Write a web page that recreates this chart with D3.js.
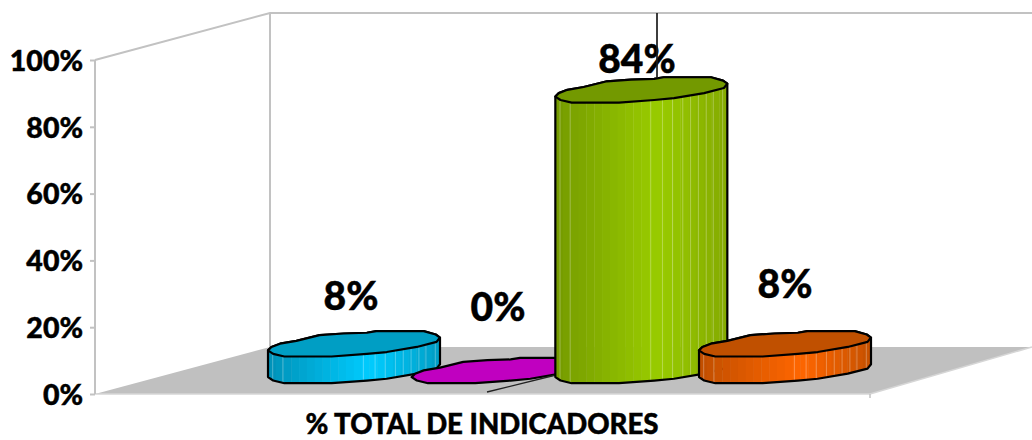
<!DOCTYPE html>
<html><head><meta charset="utf-8">
<script src="https://cdn.jsdelivr.net/npm/d3@7"></script>
<style>html,body{margin:0;background:#fff}svg{display:block}text{font-family:Lato,Carlito,sans-serif;font-weight:900;fill:#000;stroke:#000;stroke-width:.45px}</style>
</head><body><svg id="c" width="1032" height="440"></svg>
<script>
const categories = ["A","B","C","D"];
const values = [8,0,84,8];
const labels = ["8%","0%","84%","8%"];
const tickValues = [0,20,40,60,80,100];
const axisTitle = "% TOTAL DE INDICADORES";
const sideColors = [["#0093ba","#00ccff","#009fc7"],["#c000c0","#c000c0","#c000c0"],["#769c00","#99cc00","#85ab00"],["#c24f00","#ff6600","#c85200"]];
const topColors = ["#009ec4","#c000c0","#739900","#c05000"];
const labelPos = [[351,310],[498,321],[637,73],[785,298]];
// outline of the skewed, faceted disc, as fractions of half-width / half-height
const discOutline = [[-1,.52],[-.96,.25],[-.86,-.01],[-.67,-.23],[-.4,-.68],[-.12,-.81],[.15,-.87],[.26,-1],[.81,-1],[.95,-.73],[1,-.49],[.96,-.15],[.73,.25],[.38,.65],[.15,.79],[-.26,1],[-.81,1],[-.94,.79]];
const rightIdx = 10;

const svg = d3.select("#c");
const y = d3.scaleLinear().domain([0,100]).range([394,60]);
const x = d3.scalePoint().domain(categories).range([354,785]);
const depthX = 175, depthY = -47, wallGrey = "#c2c2c2";
const axisX = 95, right = 870;
const discW = 86, discH = 12.7, baseY = 370.5;
const floorY = y(0), backY = y(0)+depthY, topBackY = y(100)+depthY;

// floor
svg.append("path").attr("fill","#c0c0c0")
  .attr("d",d3.line()([[axisX,floorY],[axisX+depthX,backY],[1032,backY],[right,floorY]])+"Z");
// walls
svg.append("path").attr("fill","none").attr("stroke",wallGrey).attr("stroke-width",2)
  .attr("d",d3.line()([[axisX,y(100)],[axisX+depthX,topBackY],[1032,topBackY]]));
svg.append("line").attr("x1",axisX+depthX).attr("x2",axisX+depthX).attr("y1",topBackY).attr("y2",backY).attr("stroke",wallGrey).attr("stroke-width",2);
svg.append("path").attr("fill","none").attr("stroke","#d6d6d6").attr("stroke-width",1.5)
  .attr("d",d3.line()([[axisX,floorY],[right,floorY],[1032,backY]]));
svg.append("line").attr("x1",right).attr("x2",right).attr("y1",floorY).attr("y2",floorY+4).attr("stroke",wallGrey).attr("stroke-width",1.5);

// y axis
const ax = svg.append("g").attr("transform",`translate(${axisX},0)`)
  .call(d3.axisLeft(y).tickValues(tickValues).tickFormat(d=>d+"%").tickSize(5).tickPadding(7));
ax.selectAll(".domain,line").attr("stroke",wallGrey).attr("stroke-width",2);
ax.select(".domain").attr("d",`M0,${y(100)}V${y(0)}`);
ax.selectAll("text").attr("font-size",28.5).attr("dy","0.36em").style("font-family","Lato,Carlito,sans-serif").attr("fill","#000");

svg.append("text").attr("x",482).attr("y",434).attr("text-anchor","middle").attr("font-size",27.6).text(axisTitle);

// leader behind the columns
svg.append("line").attr("x1",657).attr("x2",657).attr("y1",topBackY).attr("y2",82).attr("stroke","#222").attr("stroke-width",1.3);

const outline = (cx,cy)=>discOutline.map(p=>[cx+p[0]*discW,cy+p[1]*discH]);
const defs = svg.append("defs");
const lightLines = [.6,1.9,12.2,13.7,15,16.3,17.3,18.3,19.3,20.2,21.4];
categories.forEach((c,i)=>{
  const cx = x(c), h = y(0)-y(values[i]), topY = baseY-h;
  const g = svg.append("g");
  const pts = outline(cx,topY), base = outline(cx,baseY);
  if(h>0){
    const sil = [...pts.slice(0,rightIdx+1), ...base.slice(rightIdx), base[0]];
    const id = "cl"+i;
    defs.append("clipPath").attr("id",id).append("path").attr("d",d3.line()(sil)+"Z");
    const col = d3.scaleLinear().domain([0,.6,1]).range(sideColors[i]).interpolate(d3.interpolateRgb);
    const bw = discW*2/22;
    const bg = g.append("g").attr("clip-path",`url(#${id})`);
    bg.selectAll("rect").data(d3.range(22)).join("rect")
      .attr("x",d=>cx-discW+d*bw-.2).attr("width",bw+.4)
      .attr("y",topY-discH-2).attr("height",h+discH*2+6)
      .attr("fill",d=>col(d/21));
    bg.selectAll("line").data(lightLines).join("line")
      .attr("x1",d=>cx-discW+d*bw).attr("x2",d=>cx-discW+d*bw)
      .attr("y1",topY-discH).attr("y2",baseY+discH)
      .attr("stroke","#fff").attr("stroke-opacity",.3).attr("stroke-width",1);
    g.append("path").attr("d",d3.line()(sil)+"Z").attr("fill","none").attr("stroke","#000").attr("stroke-width",2.2).attr("stroke-linejoin","round");
  }
  g.append("path").attr("d",d3.line()(pts)+"Z").attr("fill",topColors[i]).attr("stroke","#000").attr("stroke-width",2.2).attr("stroke-linejoin","round");
  if(h===0) svg.append("line").attr("x1",487).attr("y1",392).attr("x2",556).attr("y2",375).attr("stroke","#222").attr("stroke-width",1.3);
});
svg.selectAll(".dl").data(labels).join("text").attr("class","dl")
  .attr("x",(d,i)=>labelPos[i][0]).attr("y",(d,i)=>labelPos[i][1])
  .attr("text-anchor","middle").attr("font-size",39).text(d=>d);
svg.append("line").attr("x1",657).attr("x2",657).attr("y1",topBackY).attr("y2",78).attr("stroke","#222").attr("stroke-width",1.3);
</script></body></html>
